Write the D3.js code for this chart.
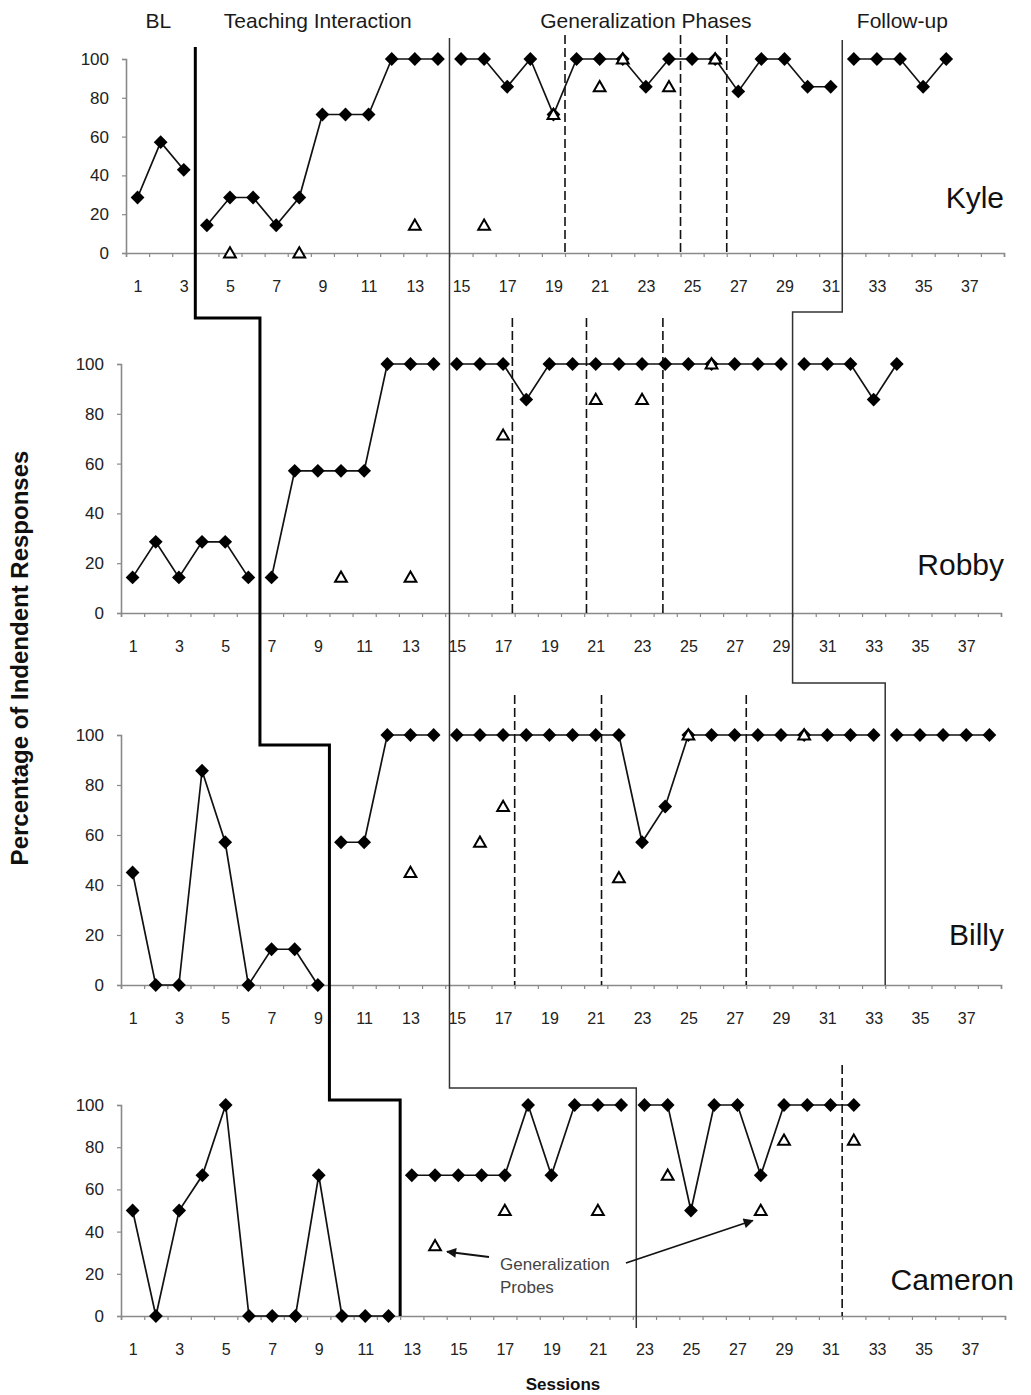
<!DOCTYPE html>
<html>
<head>
<meta charset="utf-8">
<script src="https://cdn.jsdelivr.net/npm/d3@7"></script>
<style>
body{margin:0;background:#fff}
svg{font-family:"Liberation Sans",Arial,sans-serif;display:block}
</style>
</head>
<body>
<svg></svg>
<script>
// values per session (session = index + 1)
var kyle = [28.6,57.1,42.9,14.3,28.6,28.6,14.3,28.6,71.4,71.4,71.4,100,100,100,100,100,85.7,100,71.4,100,100,100,85.7,100,100,100,83.3,100,100,85.7,85.7,100,100,100,85.7,100]
var robby = [14.3,28.6,14.3,28.6,28.6,14.3,14.3,57.1,57.1,57.1,57.1,100,100,100,100,100,100,85.7,100,100,100,100,100,100,100,100,100,100,100,100,100,100,85.7,100]
var billy = [45,0,0,85.7,57.1,0,14.3,14.3,0,57.1,57.1,100,100,100,100,100,100,100,100,100,100,100,57.1,71.4,100,100,100,100,100,100,100,100,100,100,100,100,100,100]
var cameron = [50,0,50,66.7,100,0,0,0,66.7,0,0,0,66.7,66.7,66.7,66.7,66.7,100,66.7,100,100,100,100,100,50,100,100,66.7,100,100,100,100]

// generalization probes [session, value]
var kyleProbes = [[5,0],[8,0],[13,14.3],[16,14.3],[19,71.4],[21,85.7],[22,100],[24,85.7],[26,100]]
var robbyProbes = [[10,14.3],[13,14.3],[17,71.4],[21,85.7],[23,85.7],[26,100]]
var billyProbes = [[13,45],[16,57.1],[17,71.4],[22,42.9],[25,100],[30,100]]
var cameronProbes = [[14,33.3],[17,50],[21,50],[24,66.7],[28,50],[29,83.3],[32,83.3]]

var names = ['Kyle','Robby','Billy','Cameron']
var phaseNames = ['BL','Teaching Interaction','Generalization Phases','Follow-up']
// solid phase changes and dashed generalization changes, in sessions
var phaseBreaks = [[3.5,14.5,31.5],[6.5,14.5,29.5],[9.5,14.5,33.5],[12.5,22.65]]
var dashedAt = [[19.5,24.5,26.5],[17.4,20.6,23.9],[17.5,21.25,27.5],[31.5]]
var yTicks = [0,20,40,60,80,100]
var xLabels = [1,3,5,7,9,11,13,15,17,19,21,23,25,27,29,31,33,35,37]

var values = [kyle,robby,billy,cameron]
var probes = [kyleProbes,robbyProbes,billyProbes,cameronProbes]

// layout
var frames = [
  {top:59, bottom:253, left:126, right:1004, nameY:208, dashTop:35},
  {top:364, bottom:613, left:121, right:1001, nameY:575, dashTop:318},
  {top:735, bottom:985, left:121, right:1001, nameY:945, dashTop:695},
  {top:1105, bottom:1316, left:121, right:1005, nameY:1290, dashTop:1065}
]

var svg = d3.select('svg')
  .attr('width',1031)
  .attr('height',1395)

var defs = svg.append('defs')
defs.append('marker')
  .attr('id','arrow')
  .attr('viewBox','0 0 10 10')
  .attr('refX',9).attr('refY',5)
  .attr('markerUnits','userSpaceOnUse')
  .attr('markerWidth',12).attr('markerHeight',10)
  .attr('orient','auto')
  .append('path').attr('d','M0,0 L10,5 L0,10 z').attr('fill','#111')

var xs = frames.map(function(f){
  return d3.scaleLinear().domain([0.5,38.5]).range([f.left,f.right])
})
var ys = frames.map(function(f){
  return d3.scaleLinear().domain([0,100]).range([f.bottom,f.top])
})

// axes
frames.forEach(function(f,p){
  var g = svg.append('g')

  var yAxis = d3.axisLeft(ys[p]).tickValues(yTicks).tickSize(4).tickPadding(13)
  var ya = g.append('g').attr('transform','translate('+f.left+',0)').call(yAxis)
  ya.selectAll('.tick text').attr('font-size','17px')

  var xAxis = d3.axisBottom(xs[p]).tickValues(d3.range(0.5,39,1)).tickSize(4).tickFormat('')
  g.append('g').attr('transform','translate(0,'+f.bottom+')').call(xAxis)

  var xLab = d3.axisBottom(xs[p]).tickValues(xLabels).tickSize(0).tickPadding(28).tickFormat(d3.format('d'))
  var lab = g.append('g').attr('transform','translate(0,'+f.bottom+')').call(xLab)
  lab.select('.domain').remove()
  lab.selectAll('.tick text').attr('font-size','16px')

  g.selectAll('.domain').attr('stroke','#8a8a8a').attr('stroke-width',1.6)
  g.selectAll('.tick line').attr('stroke','#8a8a8a').attr('stroke-width',1.2)
  g.selectAll('.tick text').attr('fill','#222')

  // participant name
  svg.append('text')
    .attr('x',p==3 ? 1014 : 1004)
    .attr('y',f.nameY)
    .attr('text-anchor','end')
    .attr('font-size','30px')
    .attr('fill','#111')
    .text(names[p])

  // dashed condition lines
  svg.selectAll('.dash'+p)
    .data(dashedAt[p])
    .enter()
    .append('line')
    .attr('x1',function(d){return xs[p](d)})
    .attr('x2',function(d){return xs[p](d)})
    .attr('y1',f.dashTop)
    .attr('y2',f.bottom)
    .attr('stroke','#111')
    .attr('stroke-width',1.6)
    .attr('stroke-dasharray','9,4')
})

// stepped phase change lines running across panels
var steps = [
  {pts:[[0,3.5],[1,6.5],[2,9.5],[3,12.5]], levels:[318,745,1100], y0:47, y1:1316, w:3, c:'#000'},
  {pts:[[0,14.5],[3,22.65]], levels:[1088], y0:38, y1:1328, w:1.5, c:'#333'},
  {pts:[[0,31.5],[1,29.5],[2,33.5]], levels:[312,683], y0:40, y1:985, w:1.5, c:'#333'}
]
steps.forEach(function(st){
  var d = ''
  st.pts.forEach(function(pt,i){
    var x = xs[pt[0]](pt[1])
    if (i == 0){ d += 'M'+x+','+st.y0 }
    else { d += 'H'+x }
    d += 'V'+(i < st.levels.length ? st.levels[i] : st.y1)
  })
  svg.append('path')
    .attr('d',d)
    .attr('fill','none')
    .attr('stroke',st.c)
    .attr('stroke-width',st.w)
})

// data paths, split at solid phase lines
var line = d3.line()
values.forEach(function(vals,p){
  var pts = vals.map(function(v,i){return {s:i+1, v:v}})
  var groups = d3.groups(pts,function(d){
    return phaseBreaks[p].filter(function(b){return b < d.s}).length
  })
  groups.forEach(function(gr){
    svg.append('path')
      .attr('d',line(gr[1].map(function(d){return [xs[p](d.s), ys[p](d.v)]})))
      .attr('fill','none')
      .attr('stroke','#111')
      .attr('stroke-width',1.7)
  })
  svg.selectAll('.dia'+p)
    .data(pts)
    .enter()
    .append('path')
    .attr('d',d3.symbol(d3.symbolSquare,95)())
    .attr('transform',function(d){return 'translate('+xs[p](d.s)+','+ys[p](d.v)+') rotate(45)'})
    .attr('fill','#000')
})

probes.forEach(function(pr,p){
  svg.selectAll('.tri'+p)
    .data(pr)
    .enter()
    .append('path')
    .attr('d',d3.symbol(d3.symbolTriangle,60)())
    .attr('transform',function(d){return 'translate('+xs[p](d[0])+','+(ys[p](d[1])+1)+')'})
    .attr('fill','#fff')
    .attr('stroke','#000')
    .attr('stroke-width',2)
})

// phase titles
var titleAt = [1.9,8.8,23,34.1]
phaseNames.forEach(function(t,i){
  svg.append('text')
    .attr('x',xs[0](titleAt[i]))
    .attr('y',28)
    .attr('text-anchor','middle')
    .attr('font-size','21px')
    .attr('fill','#1a1a1a')
    .text(t)
})

// annotation
var cx = xs[3], cy = ys[3]
svg.append('text').attr('x',500).attr('y',1270).attr('font-size','17px').attr('fill','#444').text('Generalization')
svg.append('text').attr('x',500).attr('y',1293).attr('font-size','17px').attr('fill','#444').text('Probes')
svg.append('line')
  .attr('x1',489).attr('y1',1257)
  .attr('x2',cx(14)+12).attr('y2',cy(33.3)+6)
  .attr('stroke','#111').attr('stroke-width',1.8)
  .attr('marker-end','url(#arrow)')
svg.append('line')
  .attr('x1',626).attr('y1',1263)
  .attr('x2',cx(28)-8).attr('y2',cy(50)+10)
  .attr('stroke','#111').attr('stroke-width',1.8)
  .attr('marker-end','url(#arrow)')

// axis titles
svg.append('text')
  .attr('transform','translate(28,658) rotate(-90)')
  .attr('text-anchor','middle')
  .attr('font-size','24px')
  .attr('font-weight','bold')
  .attr('fill','#111')
  .text('Percentage of Indendent Responses')

svg.append('text')
  .attr('x',563)
  .attr('y',1390)
  .attr('text-anchor','middle')
  .attr('font-size','17px')
  .attr('font-weight','bold')
  .attr('fill','#111')
  .text('Sessions')
</script>
</body>
</html>
